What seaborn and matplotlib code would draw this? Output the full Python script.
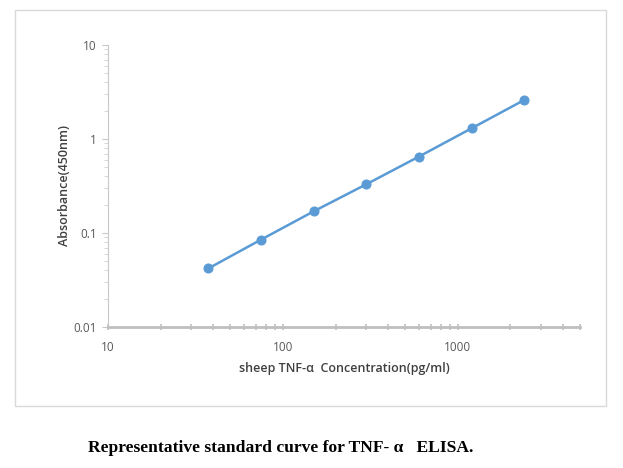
import matplotlib
matplotlib.use("Agg")
import matplotlib.pyplot as plt
import seaborn as sns
import pandas as pd
import numpy as np
from matplotlib.ticker import LogLocator, NullFormatter, FixedLocator, FixedFormatter
from matplotlib.patches import Rectangle

concentration = [37.5, 75, 150, 300, 600, 1200, 2400]
absorbance = [0.042, 0.085, 0.17, 0.33, 0.65, 1.3, 2.6]
x_ticks = [10, 100, 1000]
x_tick_labels = ["10", "100", "1000"]
y_ticks = [0.01, 0.1, 1, 10]
y_tick_labels = ["0.01", "0.1", "1", "10"]

sns.set_style("white")
plt.rcParams['font.family'] = ['Open Sans', 'DejaVu Sans']

fig = plt.figure(figsize=(6.23, 4.68), dpi=100)
ax = fig.add_axes([108/623, 1-327/468, (580-108)/623, (327-45)/468])

df = pd.DataFrame({"conc": concentration, "abs": absorbance})
sns.lineplot(data=df, x="conc", y="abs", ax=ax, color="#5B9BD5", marker="o",
             markersize=6.5, markeredgecolor="#5B9BD5", linewidth=1.8)

ax.set_xscale("log")
ax.set_yscale("log")
ax.set_xlim(10, 5000)
ax.set_ylim(0.01, 10)

ax.xaxis.set_major_locator(FixedLocator(x_ticks))
ax.xaxis.set_major_formatter(FixedFormatter(x_tick_labels))
ax.yaxis.set_major_locator(FixedLocator(y_ticks))
ax.yaxis.set_major_formatter(FixedFormatter(y_tick_labels))
ax.xaxis.set_minor_locator(LogLocator(base=10, subs=np.arange(2, 10)))
ax.yaxis.set_minor_locator(LogLocator(base=10, subs=np.arange(2, 10)))
ax.xaxis.set_minor_formatter(NullFormatter())
ax.yaxis.set_minor_formatter(NullFormatter())

for s in ["top", "right"]:
    ax.spines[s].set_visible(False)
ax.spines["left"].set_color("#c8c8c8")
ax.spines["left"].set_linewidth(0.8)
ax.spines["bottom"].set_color("#bfbfbf")
ax.spines["bottom"].set_linewidth(2.0)

ax.tick_params(axis="x", which="both", direction="inout", length=4, width=1.2,
               color="#bfbfbf", labelsize=8.5, labelcolor="#595959", pad=8, bottom=True)
ax.tick_params(axis="y", which="major", direction="out", length=4, width=0.8,
               color="#c8c8c8", labelsize=8.5, labelcolor="#595959", pad=4, left=True)
ax.tick_params(axis="y", which="minor", direction="out", length=3, width=0.6,
               color="#d0d0d0", left=True)

ax.set_xlabel("sheep TNF-α  Concentration(pg/ml)", fontsize=9, color="#404040",
              fontweight="semibold", labelpad=6)
ax.set_ylabel("Absorbance(450nm)", fontsize=9, color="#404040",
              fontweight="semibold", labelpad=2)

fig.patches.append(Rectangle((15/623, 1-406/468), (606-15)/623, (406-10)/468,
                             transform=fig.transFigure, fill=False,
                             edgecolor="#d9d9d9", linewidth=1.0))

fig.text(88/623, 1-448/468, "Representative standard curve for TNF- α   ELISA.",
         fontsize=12.6, fontweight="bold", family=["Liberation Serif", "DejaVu Serif"],
         color="black", va="center", ha="left")

fig.savefig("out.png", dpi=100)
